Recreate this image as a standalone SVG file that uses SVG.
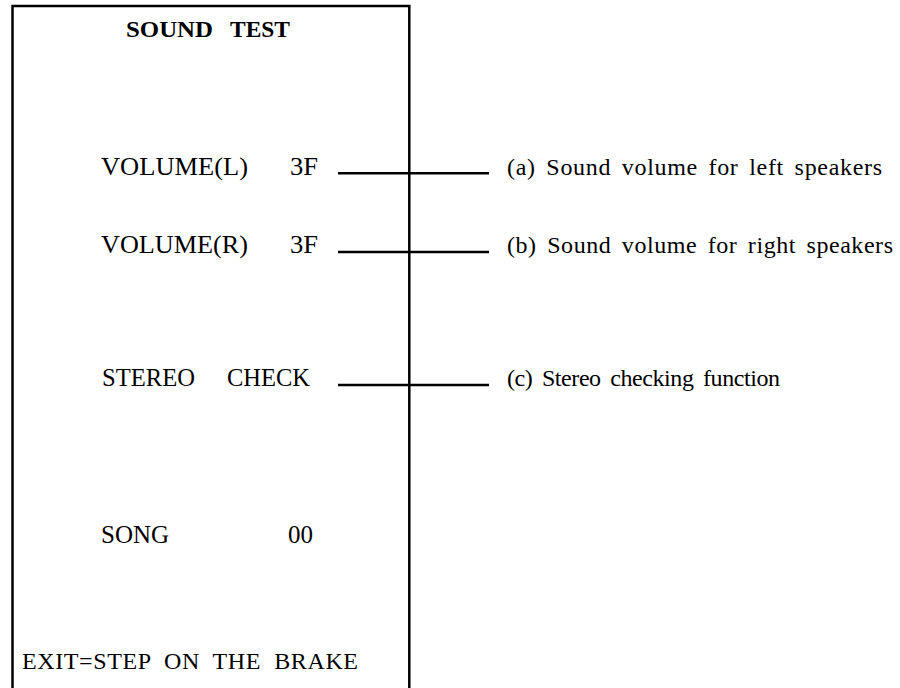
<svg xmlns="http://www.w3.org/2000/svg" width="900" height="688" viewBox="0 0 900 688">
<style>
text{font-family:"Liberation Serif","Times New Roman",serif;font-size:25px;fill:#000}
.t{font-weight:bold;font-size:24px}
.l{font-size:24px;word-spacing:4px}
.c{stroke:#000;stroke-width:2.5;fill:none}
</style>
<rect width="900" height="688" fill="#fff"/>
<g id="screen">
<path class="c" d="M12.5,700 V6 H409.3 V700"/>
<text class="t" x="126" y="37" textLength="87" lengthAdjust="spacingAndGlyphs">SOUND</text>
<text class="t" x="230" y="37" textLength="60" lengthAdjust="spacingAndGlyphs">TEST</text>
</g>
<g id="volL"><text x="101" y="175" textLength="147" lengthAdjust="spacingAndGlyphs">VOLUME(L)</text><text x="290" y="175" textLength="28" lengthAdjust="spacingAndGlyphs">3F</text></g>
<g id="volR"><text x="101" y="253" textLength="147" lengthAdjust="spacingAndGlyphs">VOLUME(R)</text><text x="290" y="253" textLength="28" lengthAdjust="spacingAndGlyphs">3F</text></g>
<g id="stereo"><text x="102" y="386" textLength="93" lengthAdjust="spacingAndGlyphs">STEREO</text><text x="227" y="386" textLength="83" lengthAdjust="spacingAndGlyphs">CHECK</text></g>
<g id="song"><text x="101" y="543" textLength="68" lengthAdjust="spacingAndGlyphs">SONG</text><text x="288" y="543" textLength="25" lengthAdjust="spacingAndGlyphs">00</text></g>
<g id="exit"><text x="22" y="669" xml:space="preserve" style="font-size:24px" textLength="336" lengthAdjust="spacing">EXIT=STEP  ON  THE  BRAKE</text></g>
<g id="labelA"><text class="l" x="507" y="175" textLength="375" lengthAdjust="spacing">(a) Sound volume for left speakers</text></g>
<g id="labelB"><text class="l" x="507" y="253" textLength="386" lengthAdjust="spacing">(b) Sound volume for right speakers</text></g>
<g id="labelC"><text class="l" x="507" y="386" textLength="273" lengthAdjust="spacing">(c) Stereo checking function</text></g>
<g id="connectors">
<line class="c" x1="338" y1="173.3" x2="489" y2="173.3"/>
<line class="c" x1="338" y1="252" x2="489" y2="252"/>
<line class="c" x1="338" y1="385" x2="489" y2="385"/>
</g>
</svg>
